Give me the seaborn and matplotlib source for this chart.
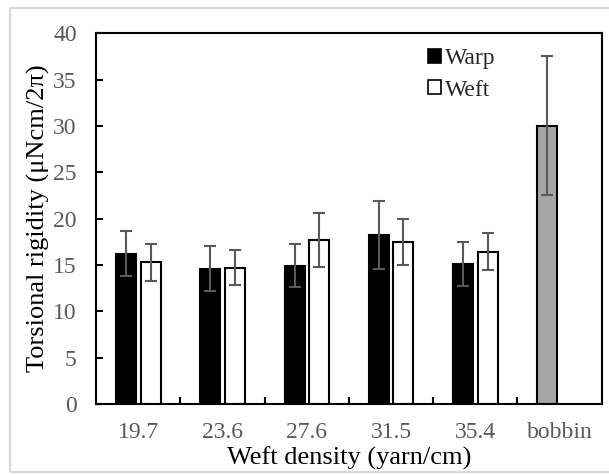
import matplotlib
matplotlib.use("Agg")
import matplotlib.pyplot as plt
import seaborn as sns
import pandas as pd
import numpy as np
from matplotlib.patches import Rectangle, Patch

categories = ["19.7", "23.6", "27.6", "31.5", "35.4", "bobbin"]
warp = [16.2, 14.6, 14.9, 18.2, 15.1, 30.0]
warp_err = [2.4, 2.4, 2.3, 3.7, 2.4, 7.5]
weft = [15.3, 14.7, 17.7, 17.5, 16.4, np.nan]
weft_err = [2.0, 1.9, 2.9, 2.5, 2.0, np.nan]
series = ["Warp", "Weft"]

sns.set_style("white")
plt.rcParams["font.family"] = ["Liberation Serif", "DejaVu Serif"]

df = pd.DataFrame({
    "cat": categories * 2,
    "val": warp + weft,
    "series": [series[0]] * len(categories) + [series[1]] * len(categories),
})

fig = plt.figure(figsize=(6.09, 4.74), dpi=100)
ax = fig.add_axes([0.158, 0.148, 0.830, 0.782])

sns.barplot(data=df, x="cat", y="val", hue="series", order=categories,
            hue_order=series, palette={"Warp": "black", "Weft": "white"},
            width=0.58, gap=0.18, edgecolor="black", linewidth=1.5,
            errorbar=None, legend=False, ax=ax)

n = len(categories)
warp_bars = ax.containers[0]
weft_bars = ax.containers[1]
for i, p in enumerate(warp_bars):
    if categories[i] == "bobbin":
        p.set_facecolor("#a6a6a6")
    x = p.get_x() + p.get_width() / 2
    ax.errorbar(x, warp[i], yerr=warp_err[i], color="#595959", capsize=4.3,
                elinewidth=1.5, capthick=1.5, fmt="none", zorder=5)
for i, p in enumerate(weft_bars):
    if np.isnan(weft[i]):
        continue
    x = p.get_x() + p.get_width() / 2
    ax.errorbar(x, weft[i], yerr=weft_err[i], color="#595959", capsize=4.3,
                elinewidth=1.5, capthick=1.5, fmt="none", zorder=5)

ax.set_ylim(0, 40)
ax.set_xlim(-0.5, n - 0.5)
ax.set_yticks(np.arange(0, 41, 5))
ax.set_xticks(range(n))
ax.set_xticklabels(categories)
ax.set_xticks(np.arange(0.5, n - 0.5, 1), minor=True)
ax.tick_params(axis="x", which="major", length=0, pad=13, labelsize=17, labelcolor="#595959")
ax.tick_params(axis="x", which="minor", direction="in", length=5, width=1.5, color="black", bottom=True)
ax.tick_params(axis="y", which="major", direction="in", length=5, width=1.5, color="black",
               labelsize=17, labelcolor="#595959", pad=14, left=True)

for s in ax.spines.values():
    s.set_linewidth(1.5)
    s.set_color("black")

ax.set_xlabel("Weft density (yarn/cm)", fontsize=19, color="black", labelpad=3)
ax.set_ylabel("Torsional rigidity (μNcm/2π)", fontsize=19, color="black", labelpad=2)

handles = [Patch(facecolor="black", edgecolor="black", linewidth=1.2),
           Patch(facecolor="white", edgecolor="black", linewidth=1.2)]
ax.legend(handles, series, loc="upper left", bbox_to_anchor=(428 / 609, 1 - 48 / 474),
          bbox_transform=fig.transFigure, frameon=False, fontsize=17,
          handlelength=0.55, handleheight=0.55, handletextpad=0.15, labelspacing=0.45,
          borderaxespad=0, borderpad=0)

fig.patches.append(Rectangle((10 / 609, 0.005), 0.99, 1 - 8 / 474 - 0.005, transform=fig.transFigure,
                             fill=False, edgecolor="#d9d9d9", linewidth=1.5))

fig.savefig("out.png", dpi=100)
